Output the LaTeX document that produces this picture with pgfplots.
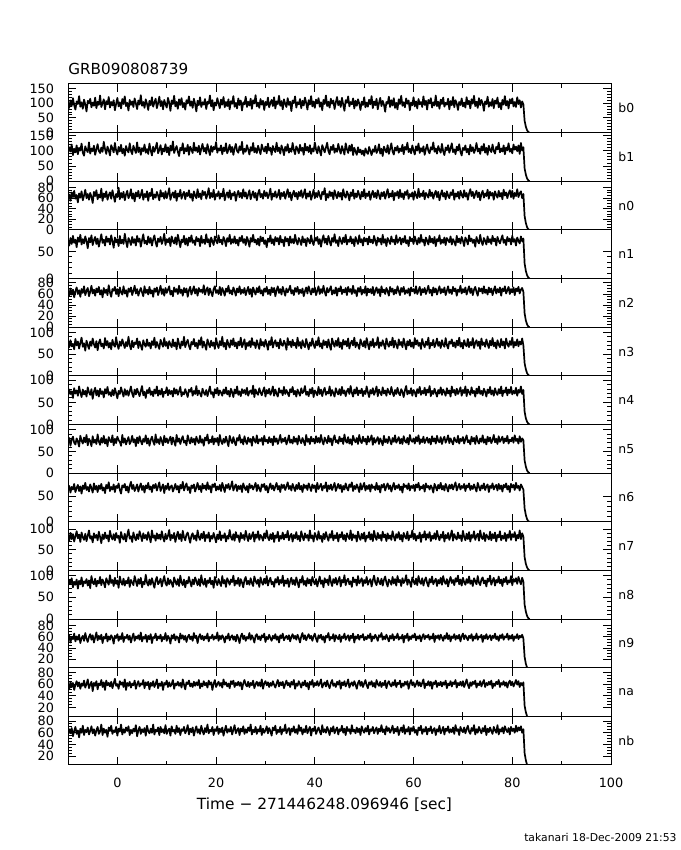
\documentclass[border=0pt]{standalone}
\usepackage{pgfplots}
\pgfplotsset{compat=1.18}
\usepackage{pgfplotstable}
\usepackage{fontspec}
\setmainfont{DejaVu Sans}
\newcommand\tickfont{\fontsize{6.4}{7}\selectfont}
\newcommand\labfont{\fontsize{6.2}{7}\selectfont}

\pgfplotstableread{
t b0 b1 n0 n1 n2 n3 n4 n5 n6 n7 n8 n9 na nb
-10.00 101 93 58 70 66 77 64 69 61 85 76 54 60 57
-9.75 84 112 67 61 57 66 79 81 70 72 90 63 51 66
-9.50 109 98 55 75 70 82 69 63 57 91 82 50 64 59
-9.25 90 121 71 64 59 68 75 77 68 76 94 60 55 68
-9.00 117 86 62 79 68 74 60 84 63 88 73 56 62 54
-8.75 93 107 74 66 54 61 82 70 74 70 86 66 50 63
-8.50 78 95 59 72 65 85 70 66 58 83 79 52 59 70
-8.25 106 118 66 58 72 70 77 80 66 95 91 61 65 58
-8.00 97 89 52 76 60 79 65 73 72 78 70 55 56 64
-7.75 124 110 69 68 67 63 86 61 60 87 88 64 63 52
-7.50 88 101 61 81 55 76 72 86 69 69 80 49 52 67
-7.25 103 124 73 63 69 88 62 75 55 92 96 58 61 60
-7.00 81 94 56 73 62 67 79 68 71 80 75 62 57 72
-6.75 112 84 65 65 74 75 68 82 64 74 87 53 66 56
-6.50 95 115 76 78 58 58 76 71 76 89 83 67 54 65
-6.25 72 103 60 69 66 81 63 88 62 71 92 57 60 61
-6.00 108 96 68 56 71 71 84 64 68 84 77 51 68 69
-5.75 99 128 57 75 56 62 73 79 59 97 89 60 53 57
-5.50 115 91 70 67 64 79 67 74 73 77 71 65 59 63
-5.25 86 108 63 80 75 69 80 62 66 83 99 55 64 71
-5.00 102 99 51 62 61 86 58 85 57 68 84 63 48 59
-4.75 91 117 72 71 68 73 74 70 75 90 80 50 62 66
-4.50 119 87 64 77 57 65 83 77 63 79 93 59 57 55
-4.25 83 105 75 64 70 80 66 67 70 86 75 68 65 64
-4.00 105 122 58 74 63 59 77 89 58 73 88 54 51 70
-3.75 94 100 67 59 73 76 63 73 71 94 82 62 61 58
-3.50 126 93 61 70 59 84 81 65 64 81 97 56 58 62
-3.25 87 111 78 82 67 68 69 81 74 66 78 64 67 74
-3.00 100 97 55 66 54 74 75 70 61 87 91 49 55 56
-2.75 113 130 69 72 71 63 61 86 67 76 84 60 63 67
-2.50 79 106 62 61 62 87 80 68 56 92 73 57 50 60
-2.25 107 90 73 78 68 70 70 78 72 78 94 66 66 65
-2.00 96 114 57 68 58 80 85 62 65 85 86 52 58 53
-1.75 121 102 66 74 76 65 67 83 77 70 79 61 62 69
-1.50 85 85 71 63 63 76 73 75 60 96 101 55 56 63
-1.25 104 119 59 80 55 61 64 71 68 82 83 63 64 72
-1.00 92 108 75 69 69 83 78 87 63 75 90 59 53 58
-0.75 110 95 64 57 66 72 66 64 73 88 76 48 61 64
-0.50 76 126 53 76 73 67 82 79 58 73 95 62 69 61
-0.25 98 101 68 67 60 89 71 69 70 91 81 58 57 70
0.00 118 88 62 73 69 71 59 84 66 79 89 65 60 55
0.25 89 113 80 60 56 62 76 76 75 84 72 53 52 67
0.50 103 98 58 79 72 79 69 72 62 67 98 61 65 62
0.75 82 120 70 65 63 69 84 63 55 93 85 56 59 74
1.00 114 92 61 72 59 84 73 88 71 80 79 67 63 57
1.25 97 107 72 64 74 74 63 70 67 75 93 51 55 66
1.50 123 84 56 83 61 64 80 80 74 89 77 60 68 60
1.75 90 116 67 69 67 78 67 66 61 70 88 58 50 69
2.00 101 103 74 58 55 68 77 75 69 86 82 64 62 63
2.25 75 95 60 75 70 90 65 83 57 99 96 55 57 71
2.50 111 125 65 70 64 71 75 67 70 77 74 62 64 56
2.75 94 100 77 62 72 61 86 73 78 83 90 50 54 65
3.00 106 89 59 77 58 81 70 86 64 69 84 59 61 59
3.25 87 117 69 66 66 66 62 71 72 92 78 66 58 67
3.50 116 105 54 73 75 77 79 78 60 80 99 53 66 62
3.75 99 93 71 61 61 73 68 62 66 73 87 61 52 73
4.00 80 128 63 79 69 86 81 82 73 88 76 57 60 54
4.25 109 96 74 68 57 64 72 69 59 76 92 63 65 64
4.50 95 111 60 74 65 79 64 85 68 95 81 55 56 70
4.75 127 87 66 59 71 70 76 74 75 84 95 68 61 58
5.00 91 109 76 71 63 60 87 66 62 71 73 52 59 66
5.25 104 99 57 82 56 82 66 79 70 90 86 60 67 61
5.50 84 121 68 65 74 72 74 72 57 78 80 57 53 68
5.75 113 94 62 70 62 67 60 87 71 86 102 64 63 55
6.00 98 106 73 63 68 84 78 68 65 74 84 51 58 72
6.25 77 90 55 78 59 69 71 80 76 93 77 62 64 63
6.50 108 124 70 66 73 76 83 63 63 81 91 56 51 59
6.75 93 102 64 75 61 63 67 76 69 68 79 65 62 67
7.00 120 85 78 61 67 80 75 84 58 97 94 49 57 60
7.25 88 114 58 72 55 71 64 73 72 79 83 60 65 74
7.50 102 97 67 80 70 88 79 65 66 85 72 58 55 57
7.75 115 110 61 67 64 65 70 89 74 72 89 66 60 65
8.00 83 127 72 59 72 78 86 70 61 90 97 54 68 62
8.25 100 92 65 74 58 70 65 78 69 77 80 61 53 69
8.50 122 104 56 68 66 62 77 67 77 87 85 57 61 56
8.75 90 119 75 77 75 83 68 83 60 75 93 64 57 70
9.00 107 88 63 64 60 74 81 74 67 95 75 52 64 61
9.25 79 108 70 71 69 67 62 64 73 80 88 60 50 66
9.50 111 98 59 83 57 87 74 86 56 70 99 56 62 59
9.75 96 122 73 62 71 69 71 71 70 89 82 67 59 73
10.00 85 95 60 73 62 78 84 80 64 76 77 53 66 58
10.25 118 112 68 67 68 63 66 69 75 84 94 62 55 64
10.50 102 86 79 75 74 80 78 77 62 98 80 58 63 67
10.75 74 117 57 60 59 72 69 84 68 73 90 48 56 55
11.00 109 101 66 78 66 66 76 66 71 86 83 63 60 71
11.25 97 131 71 69 56 84 63 82 59 78 74 57 67 62
11.50 125 93 61 65 72 68 82 73 66 91 96 65 52 65
11.75 89 106 74 76 64 77 70 63 74 69 86 54 61 58
12.00 104 116 55 63 69 61 79 88 63 83 79 61 58 72
12.25 81 97 69 81 60 86 67 72 70 94 92 59 64 61
12.50 113 83 63 70 75 73 75 80 57 76 76 50 57 68
12.75 94 110 76 58 62 63 85 67 72 88 100 66 62 56
13.00 117 102 59 72 68 79 64 78 65 71 84 57 54 66
13.25 86 125 67 67 57 70 73 85 78 96 78 63 68 63
13.50 101 91 72 79 71 90 68 70 61 80 91 55 59 70
13.75 78 109 58 63 63 66 80 75 69 73 73 62 51 59
14.00 110 99 70 74 70 76 71 64 75 87 88 51 63 64
14.25 99 120 64 61 55 83 62 87 62 92 82 60 60 73
14.50 123 87 75 76 67 69 79 76 68 79 97 64 66 57
14.75 91 114 61 68 73 61 74 68 56 67 85 56 56 67
15.00 106 104 68 80 59 78 83 82 71 84 75 61 61 61
15.25 84 93 55 66 66 72 65 71 66 90 91 53 55 69
15.50 115 127 73 71 74 85 76 79 73 76 80 67 64 55
15.75 97 100 65 62 61 68 69 65 59 85 96 58 57 64
16.00 72 111 60 77 69 76 87 84 67 72 87 62 63 71
16.25 108 96 77 69 57 63 66 74 76 97 78 49 58 60
16.50 93 117 62 74 71 82 77 69 63 81 92 60 67 66
16.75 120 88 69 60 64 71 70 86 70 74 76 65 53 58
17.00 87 107 58 79 68 89 63 70 58 89 101 56 61 72
17.25 103 123 74 66 62 65 81 78 74 78 84 62 56 63
17.50 95 98 66 72 76 79 72 63 65 94 79 54 65 57
17.75 114 110 72 64 59 70 67 82 71 71 93 61 58 68
18.00 80 91 59 82 67 60 78 75 62 86 74 57 62 61
18.25 105 122 67 67 72 84 64 89 77 79 89 66 54 74
18.50 98 103 79 73 58 74 75 68 64 92 83 52 66 59
18.75 126 86 60 59 70 66 86 77 70 70 95 60 59 65
19.00 89 116 70 76 63 81 69 71 57 84 80 58 63 62
19.25 110 97 62 69 56 69 73 85 73 77 88 64 50 70
19.50 76 113 76 62 69 77 61 66 68 91 72 55 61 56
19.75 102 105 57 78 74 62 80 80 75 80 97 61 67 66
20.00 92 129 68 70 62 87 70 72 61 68 86 57 55 63
20.25 117 94 64 65 67 72 83 81 69 87 78 68 60 71
20.50 99 108 73 80 60 64 66 64 63 76 92 53 64 58
20.75 83 101 59 67 73 80 77 88 72 95 84 62 57 67
21.00 112 118 69 72 58 70 72 74 60 73 76 56 62 61
21.25 95 89 63 63 71 90 65 67 76 85 99 63 54 69
21.50 121 111 78 77 65 67 79 79 67 79 82 59 68 55
21.75 86 99 56 71 57 76 70 70 58 90 90 50 59 64
22.00 104 125 66 60 70 61 84 84 72 70 74 61 63 72
22.25 90 92 71 75 64 83 68 73 66 84 94 57 56 60
22.50 113 104 61 68 75 73 76 62 74 77 87 66 61 66
22.75 79 120 75 81 61 65 63 86 63 98 79 54 53 62
23.00 107 96 58 64 67 82 81 76 69 81 91 60 65 70
23.25 98 113 69 73 59 71 73 69 79 74 85 63 60 57
23.50 124 87 65 66 72 86 62 83 61 88 100 55 66 65
23.75 88 108 72 78 66 68 79 71 68 72 77 61 55 73
24.00 101 123 55 65 57 77 70 64 73 93 89 52 62 59
24.25 82 100 67 72 70 63 86 81 60 80 81 64 58 64
24.50 116 94 74 61 63 79 67 75 70 85 95 58 64 68
24.75 94 115 62 76 74 70 75 88 64 69 76 49 57 56
25.00 109 102 70 69 60 88 64 70 71 91 92 61 63 67
25.25 75 130 60 79 68 66 80 78 58 78 84 66 51 62
25.50 103 90 77 66 62 74 71 66 75 86 73 56 61 71
25.75 96 107 63 73 71 84 78 85 67 74 90 62 67 58
26.00 122 97 71 62 58 61 68 73 62 96 97 53 59 66
26.25 87 119 59 77 66 76 83 67 70 82 80 60 56 60
26.50 105 105 67 70 73 69 65 82 57 71 88 57 64 69
26.75 92 88 75 59 60 80 74 72 74 89 79 67 55 63
27.00 115 112 58 75 69 66 77 79 66 76 94 55 62 74
27.25 81 100 66 68 55 87 69 63 71 84 83 63 58 57
27.50 110 126 73 81 72 71 88 84 63 93 76 58 66 65
27.75 99 95 61 67 65 77 62 76 69 70 98 50 53 61
28.00 127 109 70 72 59 64 79 70 76 87 88 62 60 70
28.25 89 93 56 63 71 82 71 87 60 79 81 65 64 58
28.50 102 117 69 74 63 72 67 68 72 95 91 56 57 66
28.75 84 103 76 61 74 62 82 78 65 74 74 61 63 62
29.00 114 89 62 78 61 85 73 74 59 86 96 54 56 72
29.25 95 121 68 69 67 70 66 81 73 81 85 63 68 56
29.50 108 106 59 76 57 78 76 65 68 72 79 59 52 67
29.75 77 98 74 64 70 67 84 86 74 90 93 66 61 60
30.00 104 114 64 71 64 83 63 73 62 78 82 51 65 64
30.25 93 92 71 58 73 73 78 77 70 97 99 60 58 71
30.50 119 124 60 74 60 60 70 69 57 80 77 56 63 59
30.75 86 101 67 68 68 80 81 83 67 73 88 64 55 68
31.00 100 110 78 80 58 71 67 71 75 88 95 58 62 63
31.25 111 87 57 65 72 89 74 79 64 76 80 53 57 55
31.50 90 116 69 73 63 65 86 64 71 91 86 62 65 69
31.75 120 104 63 62 71 76 65 85 61 69 74 57 59 64
32.00 82 96 73 77 56 82 79 72 69 85 92 65 54 72
32.25 106 127 61 69 67 68 70 80 76 79 84 55 61 58
32.50 97 99 66 75 74 77 63 67 63 94 97 61 67 65
32.75 125 111 76 63 62 63 82 76 70 71 79 50 56 61
33.00 91 91 58 79 69 85 72 88 58 84 90 63 63 70
33.25 107 118 70 67 59 72 77 70 73 77 83 58 58 57
33.50 79 105 64 72 73 69 66 79 66 92 100 66 64 66
33.75 113 86 72 60 65 81 85 73 72 75 76 54 53 63
34.00 98 113 59 77 57 74 69 82 62 87 89 59 60 74
34.25 87 100 68 69 70 60 78 66 69 80 82 62 66 59
34.50 117 122 77 74 63 87 71 75 77 96 93 56 58 65
34.75 94 94 62 61 68 71 64 87 64 73 74 63 62 68
35.00 105 108 71 78 75 79 80 70 70 83 87 52 55 56
35.25 73 97 56 66 61 66 73 77 61 89 95 60 64 67
35.50 109 126 67 73 67 83 85 68 74 70 80 65 59 62
35.75 100 103 74 65 58 70 68 84 67 86 90 57 67 71
36.00 123 89 63 81 71 76 76 72 60 78 78 62 52 60
36.25 85 115 70 69 64 64 63 80 72 93 96 55 61 66
36.50 103 106 58 63 73 88 79 66 64 75 85 64 57 58
36.75 96 92 72 75 60 69 72 86 76 84 73 58 65 73
37.00 114 120 64 70 68 78 65 75 63 71 91 50 60 63
37.25 83 100 75 62 62 63 82 69 70 95 84 61 54 69
37.50 108 110 61 78 70 82 71 81 58 82 99 67 63 57
37.75 92 87 68 67 56 71 75 73 73 73 79 56 58 66
38.00 119 124 77 73 65 66 87 64 66 90 88 63 66 61
38.25 101 101 59 60 72 85 67 88 71 79 76 54 56 72
38.50 78 113 69 75 61 73 74 72 62 86 94 60 62 59
38.75 110 96 63 71 74 61 64 79 75 72 82 65 51 65
39.00 95 119 73 65 66 77 80 67 68 97 91 57 64 70
39.25 124 90 57 80 59 69 70 84 60 78 77 62 59 55
39.50 89 108 66 68 70 86 83 73 73 85 97 53 67 67
39.75 106 98 76 62 63 72 62 79 66 70 86 61 55 63
40.00 84 128 60 76 72 64 77 68 71 91 80 66 62 71
40.25 112 104 70 70 58 80 72 85 58 83 92 57 58 58
40.50 99 92 62 77 66 70 66 71 76 74 75 51 65 64
40.75 117 115 74 64 74 89 85 81 64 95 87 63 57 69
41.00 88 101 65 73 60 67 69 70 69 77 98 58 61 62
41.25 103 85 58 59 69 75 79 88 74 84 81 64 68 57
41.50 76 119 72 72 62 63 64 74 61 69 89 55 54 73
41.75 111 107 67 80 75 82 76 66 70 89 73 61 60 61
42.00 97 95 79 66 64 71 83 82 66 76 94 50 63 66
42.25 126 111 56 74 57 79 67 75 77 93 84 62 56 60
42.50 90 127 68 63 71 65 74 69 59 81 91 59 66 70
42.75 105 99 61 79 63 84 70 86 71 72 78 67 58 64
43.00 85 89 73 69 68 70 86 72 64 88 100 54 53 56
43.25 115 114 64 61 74 60 65 80 73 79 86 60 62 68
43.50 98 103 71 75 59 86 78 64 62 96 76 57 67 62
43.75 109 120 58 68 67 75 71 79 69 73 92 65 57 71
44.00 80 94 75 82 61 67 63 87 76 85 83 52 61 59
44.25 102 108 66 66 72 81 82 71 60 78 95 63 55 65
44.50 121 97 60 71 57 69 73 76 67 91 79 59 64 69
44.75 93 123 72 60 70 87 68 68 74 70 88 56 59 57
45.00 107 104 63 77 65 66 80 84 65 87 97 64 66 66
45.25 87 91 70 70 74 77 66 73 72 80 75 51 52 63
45.50 118 116 57 64 60 62 85 80 58 93 90 61 63 72
45.75 95 102 77 76 68 83 70 67 70 75 84 58 58 60
46.00 74 88 65 67 63 72 77 89 63 86 101 66 65 67
46.25 110 125 61 81 71 80 64 74 75 71 78 55 56 56
46.50 101 106 73 63 58 68 75 70 66 90 89 60 61 70
46.75 123 93 67 72 73 86 81 83 61 82 93 63 68 63
47.00 89 117 56 68 64 63 69 68 73 76 80 53 54 66
47.25 104 100 71 78 69 75 87 78 68 97 87 62 60 58
47.50 96 121 64 65 60 81 72 65 77 73 74 58 63 73
47.75 116 86 76 73 75 70 63 86 60 88 96 66 57 62
48.00 82 110 59 60 62 88 79 76 70 79 85 50 65 65
48.25 108 98 69 77 67 66 70 71 64 85 91 61 59 59
48.50 91 87 62 70 56 77 84 81 73 70 77 57 52 69
48.75 113 112 74 64 71 71 66 67 67 94 99 64 62 61
49.00 99 95 66 80 64 62 77 88 58 81 82 55 66 67
49.25 77 104 58 67 73 84 71 74 75 74 88 62 57 56
49.50 105 89 72 73 59 74 81 69 63 89 94 59 64 71
49.75 94 101 63 61 68 68 64 84 69 77 76 65 55 64
50.00 120 84 77 76 62 80 76 73 76 92 90 54 61 60
50.25 86 108 60 69 74 65 69 79 61 70 83 60 67 68
50.50 102 96 69 74 57 87 86 66 70 84 97 56 58 62
50.75 88 90 64 63 70 73 73 85 64 79 79 63 53 72
51.00 112 113 73 78 63 61 62 72 72 93 87 58 63 57
51.25 96 100 57 67 69 79 78 78 59 75 92 66 59 66
51.50 124 86 67 72 61 69 70 87 73 88 75 52 65 63
51.75 83 105 74 65 73 85 82 65 66 71 89 61 56 70
52.00 106 97 62 79 58 66 67 81 69 96 100 57 62 59
52.25 93 117 70 70 66 76 75 70 62 81 84 64 54 65
52.50 115 93 60 61 72 71 86 76 76 74 78 59 67 69
52.75 79 102 75 76 62 89 64 83 63 91 95 53 60 58
53.00 100 122 66 68 69 64 79 67 70 78 86 63 57 67
53.25 118 91 58 74 56 77 72 80 57 86 80 60 64 62
53.50 90 107 71 63 74 69 66 73 72 72 93 67 55 73
53.75 108 83 64 81 63 82 84 64 67 94 77 55 62 61
54.00 95 114 72 66 68 72 70 86 74 80 90 61 58 66
54.25 71 103 59 73 60 62 77 71 61 87 98 56 66 57
54.50 104 95 68 60 71 86 65 78 69 71 84 64 53 71
54.75 98 119 77 75 65 74 81 69 75 90 75 58 61 63
55.00 122 90 61 70 57 67 73 84 64 77 91 52 65 68
55.25 87 106 69 64 73 79 68 75 71 85 87 62 59 60
55.50 110 125 63 78 64 70 85 66 59 74 79 57 56 65
55.75 92 98 74 68 70 88 72 81 68 95 97 65 63 72
56.00 117 88 56 72 59 65 64 72 76 82 82 54 58 59
56.25 84 111 70 63 68 81 78 87 63 72 92 61 67 67
56.50 101 101 65 80 61 72 69 70 70 88 77 58 55 62
56.75 79 116 73 66 74 63 83 76 66 79 99 66 62 70
57.00 113 94 60 71 66 84 71 83 73 93 85 55 60 56
57.25 97 108 76 76 58 71 66 68 62 75 90 60 66 64
57.50 125 99 62 63 71 78 80 79 69 86 76 57 54 69
57.75 91 120 69 74 64 66 74 67 57 70 94 64 61 61
58.00 103 89 58 67 73 86 62 85 74 91 83 50 57 73
58.25 86 113 72 79 60 73 77 74 68 82 88 62 64 58
58.50 116 104 66 65 67 61 87 70 71 77 101 58 59 66
58.75 98 127 75 71 62 80 68 81 64 94 79 66 65 62
59.00 109 96 59 60 70 70 76 66 75 73 91 53 52 70
59.25 76 107 68 77 57 83 70 88 61 85 85 61 61 57
59.50 102 92 63 69 72 67 82 75 70 80 74 56 67 68
59.75 93 118 71 74 65 77 65 72 66 97 96 63 58 63
60.00 120 102 57 64 69 64 78 80 72 76 87 59 63 71
60.25 89 88 73 78 61 87 73 68 60 89 80 66 55 60
60.50 106 115 65 70 74 72 63 83 73 72 93 54 60 65
60.75 82 101 60 63 60 82 80 73 67 84 78 61 66 56
61.00 114 124 78 75 66 69 71 87 76 78 99 57 57 69
61.25 96 93 62 66 73 76 85 67 62 92 86 63 63 64
61.50 104 109 69 81 58 62 67 78 69 69 81 52 56 72
61.75 87 98 64 68 69 85 76 71 65 87 94 60 62 58
62.00 123 115 74 72 63 73 70 84 72 80 77 65 68 66
62.25 94 87 58 61 71 66 83 69 59 95 89 56 53 62
62.50 108 106 70 76 60 79 66 76 75 74 96 62 61 70
62.75 78 121 66 70 67 71 79 82 67 88 83 59 58 57
63.00 111 100 61 63 75 88 72 70 70 79 75 64 65 67
63.25 99 92 76 79 62 63 87 79 63 93 92 55 57 63
63.50 117 112 64 67 68 76 64 66 71 71 84 61 64 71
63.75 85 104 71 74 57 70 76 85 66 84 98 57 52 59
64.00 103 128 59 65 72 83 69 73 57 77 80 66 63 65
64.25 92 97 68 77 63 66 81 80 74 90 87 51 60 68
64.50 126 108 74 60 70 74 72 68 68 75 93 62 66 56
64.75 90 91 62 73 59 86 63 86 61 96 76 58 55 66
65.00 105 116 72 69 67 69 78 74 72 82 90 63 62 62
65.25 81 103 56 80 74 78 70 71 65 73 82 55 58 72
65.50 112 94 67 64 61 64 84 83 76 87 95 64 64 59
65.75 97 123 75 72 69 82 67 67 63 79 79 59 56 64
66.00 119 99 63 66 63 72 79 78 70 94 99 53 63 70
66.25 88 86 70 76 72 67 73 84 61 70 86 62 59 57
66.50 101 111 58 62 58 87 65 70 74 86 81 57 66 67
66.75 95 102 73 75 66 71 82 77 67 78 92 67 53 63
67.00 115 119 65 71 74 63 70 87 59 91 75 56 61 71
67.25 79 94 60 67 62 79 77 69 72 74 88 63 58 60
67.50 107 108 71 78 68 74 63 80 65 84 97 52 65 66
67.75 93 125 66 63 60 84 86 73 73 97 83 61 56 61
68.00 121 96 76 73 73 68 72 66 63 72 90 58 63 69
68.25 86 105 57 68 65 77 78 82 70 88 78 65 60 58
68.50 110 89 69 61 70 65 66 75 77 80 94 55 67 73
68.75 99 114 63 79 57 81 81 71 61 75 86 62 54 63
69.00 77 101 72 67 68 70 69 86 68 92 100 57 62 66
69.25 104 122 59 74 64 88 75 68 74 78 80 64 58 56
69.50 94 97 74 65 75 67 84 79 63 85 91 52 64 70
69.75 116 85 66 77 61 76 65 74 70 71 77 61 57 64
70.00 89 110 61 70 69 63 78 83 66 96 95 66 65 61
70.25 102 103 75 60 63 82 71 68 74 81 85 56 55 69
70.50 85 118 63 76 72 72 86 78 60 73 79 63 61 59
70.75 120 95 70 71 59 68 64 87 71 89 92 59 68 66
71.00 96 107 57 63 67 85 79 71 67 76 83 54 59 72
71.25 108 88 69 80 74 66 73 76 75 93 98 62 53 62
71.50 82 120 77 69 62 78 67 66 62 70 81 58 63 58
71.75 113 99 64 74 70 70 84 84 70 86 89 65 57 68
72.00 98 112 72 66 58 87 71 73 64 79 76 53 64 63
72.25 125 93 60 72 68 64 76 81 73 95 94 61 60 73
72.50 90 104 68 59 73 76 63 67 66 74 87 57 66 57
72.75 105 126 74 77 64 82 81 86 59 84 80 66 54 66
73.00 84 98 62 69 57 69 70 74 76 89 99 55 61 60
73.25 117 108 71 65 71 79 86 68 68 72 84 61 58 70
73.50 93 90 56 81 65 62 69 80 61 97 78 59 65 64
73.75 111 115 68 68 70 86 76 72 71 80 91 64 56 59
74.00 100 101 74 62 61 71 66 87 65 76 96 51 62 68
74.25 74 123 61 75 74 77 81 70 75 91 82 62 67 62
74.50 106 94 69 70 62 67 74 78 62 71 89 57 55 72
74.75 97 110 64 63 68 84 63 66 69 87 75 65 62 56
75.00 122 87 76 78 59 73 79 84 73 81 93 56 58 67
75.25 88 117 59 67 72 64 71 73 58 75 86 60 64 61
75.50 103 103 72 73 63 81 85 82 70 94 100 63 59 69
75.75 91 96 65 64 70 70 68 69 66 73 79 54 66 63
76.00 114 121 70 79 58 87 77 76 75 88 88 62 53 58
76.25 83 100 57 69 67 68 65 88 63 78 95 58 61 70
76.50 109 91 73 74 74 77 82 71 69 92 77 66 57 64
76.75 98 113 66 61 61 63 72 79 72 70 90 56 64 60
77.00 119 105 61 77 69 82 67 67 61 86 84 61 60 73
77.25 86 127 74 70 63 72 80 85 74 80 98 53 67 57
77.50 101 95 63 65 72 66 70 72 64 95 82 63 55 66
77.75 79 108 70 73 57 85 86 77 71 73 91 58 62 62
78.00 111 98 58 80 70 70 64 84 59 84 76 65 59 69
78.25 95 118 76 66 65 79 77 69 72 77 93 55 65 59
78.50 124 89 65 72 74 63 72 80 67 91 85 61 57 71
78.75 92 111 71 62 61 86 84 73 75 71 97 59 63 65
79.00 107 102 60 77 67 73 66 86 63 87 80 66 54 61
79.25 82 125 69 69 73 67 79 68 70 79 89 55 62 68
79.50 113 97 75 74 60 80 71 77 58 96 84 62 66 57
79.75 99 107 62 63 69 71 85 73 74 74 99 57 58 70
80.00 116 92 74 79 63 88 68 82 67 88 78 64 64 63
80.25 89 121 59 68 72 65 76 70 72 81 92 53 56 67
80.50 104 104 70 73 58 78 70 87 62 93 86 61 61 60
80.75 87 114 64 61 70 70 83 74 76 72 94 58 67 72
81.00 120 99 77 76 65 84 65 79 66 86 81 65 59 62
81.25 97 118 62 70 73 68 78 68 70 78 97 56 65 69
81.50 110 90 69 65 61 79 72 85 61 97 88 62 55 64
81.75 85 126 73 78 68 72 86 72 73 76 80 59 62 71
82.00 106 101 60 69 71 86 69 80 68 90 95 64 58 60
82.25 96 112 68 74 64 70 78 76 63 82 86 57 63 66
82.50 40 42 26 28 25 29 29 29 26 32 33 24 23 25
82.75 20 22 13 14 12 15 14 15 13 16 17 12 12 13
83.00 8 9 5 6 5 6 6 6 5 7 7 5 5 5
83.25 2 3 1 2 1 2 2 2 1 2 2 1 1 1
83.50 0 0 0 0 0 0 0 0 0 0 0 0 0 0
}\lc

\pgfplotsset{panel/.style={
  scale only axis, width=271.5pt, height=24.32pt,
  xmin=-10, xmax=100,
  xtick={0,20,40,60,80,100}, minor xtick={10,30,50,70,90},
  xticklabels={},
  tick align=inside, major tick length=4pt, minor tick length=2pt,
  every tick/.style={black, line width=0.5pt},
  axis line style={line width=0.5pt},
  yticklabel style={font=\tickfont, xshift=-3.5pt},
  xticklabel style={font=\tickfont, yshift=-3pt},
  /pgf/number format/assume math mode=true,
  clip mode=individual, scaled y ticks=false,
  anchor=north west}}

\newcommand{\panel}[7]{%
\begin{axis}[panel, at={(34pt,-#1pt)}, ymin=#3, ymax=#4, ytick={#5}, minor y tick num=#6, #7]
\addplot[black, line width=0.85pt, line join=round] table[x=t, y=#2] {\lc};
\node[anchor=west, inner sep=0pt, font=\labfont] at (rel axis cs:1,0.5) [xshift=3.5pt] {#2};
\end{axis}}

\begin{document}
\begin{tikzpicture}
\useasboundingbox (0,0) rectangle (340pt,-425pt);
\panel{42}{b0}{0}{165}{0,50,100,150}{4}{}
\panel{66.32}{b1}{0}{160}{0,50,100,150}{4}{}
\panel{90.64}{n0}{0}{92}{0,20,40,60,80}{3}{}
\panel{114.96}{n1}{0}{90}{0,50}{4}{}
\panel{139.28}{n2}{0}{88}{0,20,40,60,80}{3}{}
\panel{163.60}{n3}{0}{112}{0,50,100}{4}{}
\panel{187.92}{n4}{0}{110}{0,50,100}{4}{}
\panel{212.24}{n5}{0}{112}{0,50,100}{4}{}
\panel{236.56}{n6}{0}{95}{0,50}{4}{}
\panel{260.88}{n7}{0}{118}{0,50,100}{4}{}
\panel{285.20}{n8}{0}{112}{0,50,100}{4}{}
\panel{309.52}{n9}{5}{92}{20,40,60,80}{3}{}
\panel{333.84}{na}{5}{88}{20,40,60,80}{3}{}
\panel{358.16}{nb}{5}{88}{20,40,60,80}{3}{xticklabels={0,20,40,60,80,100}}
\node[anchor=base west, inner sep=0pt, font=\fontsize{7.6}{8}\selectfont] at (34pt,-37.5pt) {GRB090808739};
\node[inner sep=0pt, font=\fontsize{7.7}{8}\selectfont] at (162.25pt,-402.5pt) {Time − 271446248.096946 [sec]};
\node[anchor=base east, inner sep=0pt, font=\fontsize{5.4}{6}\selectfont] at (338.5pt,-420.5pt) {takanari 18-Dec-2009 21:53};
\end{tikzpicture}
\end{document}
